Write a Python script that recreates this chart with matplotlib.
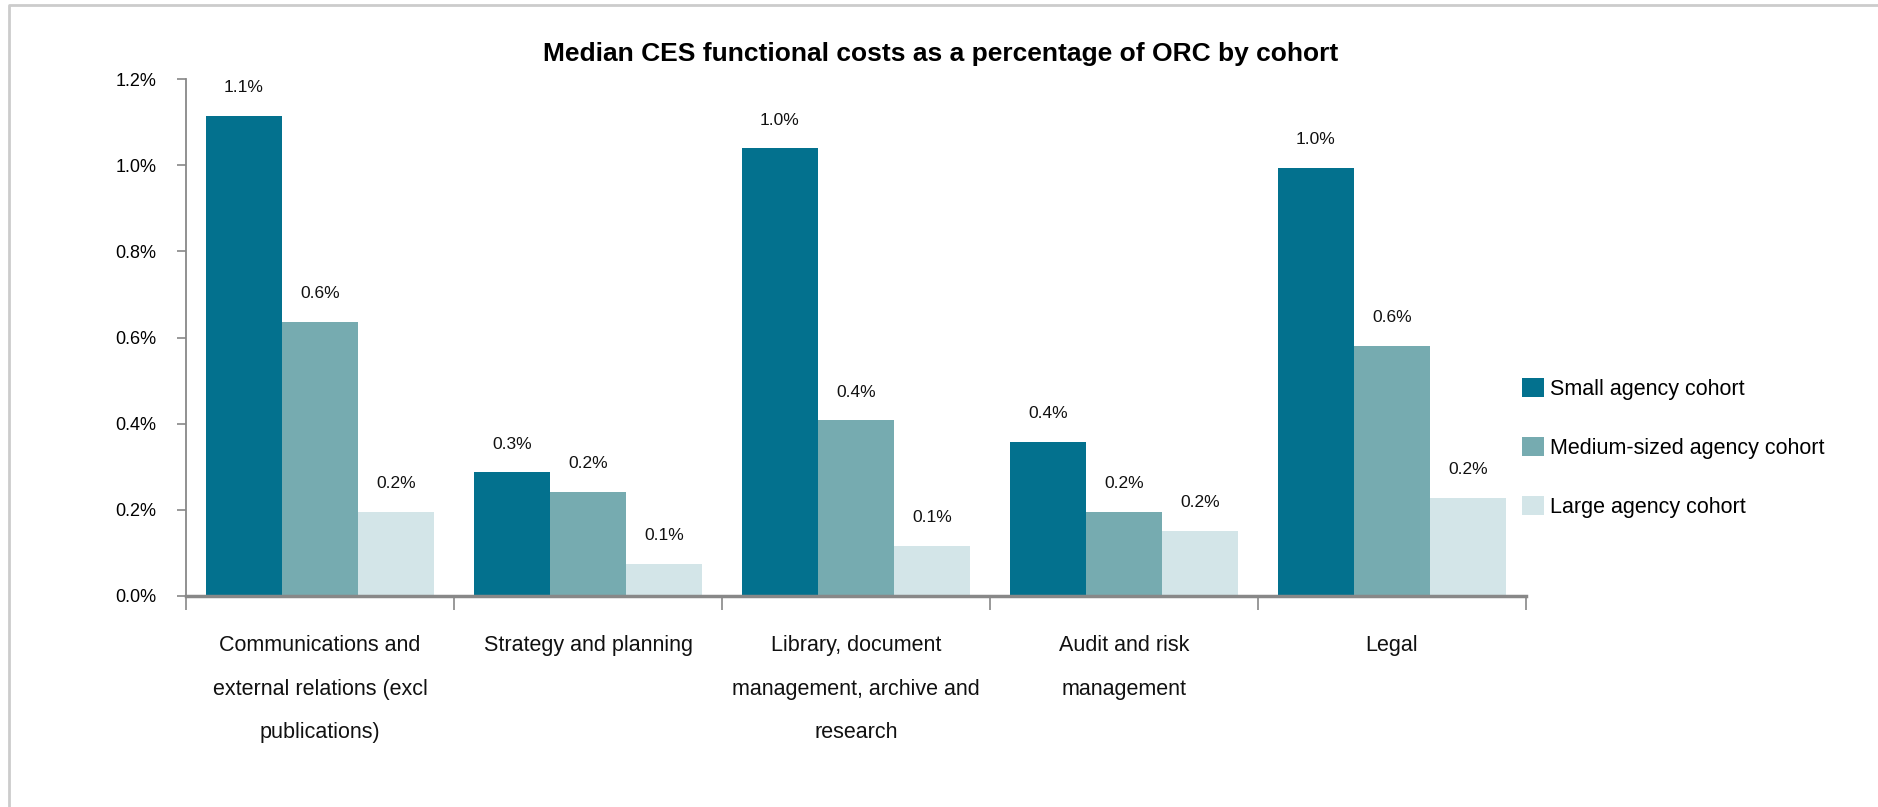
import matplotlib
matplotlib.use("Agg")
import matplotlib.pyplot as plt
from matplotlib.lines import Line2D
import numpy as np

plt.rcParams['font.family'] = ['Liberation Sans', 'DejaVu Sans']

categories = [
    "Communications and\nexternal relations (excl\npublications)",
    "Strategy and planning",
    "Library, document\nmanagement, archive and\nresearch",
    "Audit and risk\nmanagement",
    "Legal",
]
series_names = ["Small agency cohort", "Medium-sized agency cohort", "Large agency cohort"]
small = [1.115, 0.288, 1.040, 0.358, 0.994]
medium = [0.637, 0.242, 0.409, 0.196, 0.581]
large = [0.196, 0.075, 0.117, 0.152, 0.228]
yticks = [0.0, 0.2, 0.4, 0.6, 0.8, 1.0, 1.2]
colors = ["#03718E", "#76ABB0", "#D3E5E8"]

W, H = 1878, 807
fig = plt.figure(figsize=(W / 100, H / 100), dpi=100)
ax = fig.add_axes([186 / W, 1 - 596 / H, (1526 - 186) / W, (596 - 79) / H])

x = np.arange(len(categories))
bw = 0.284
for k, (vals, name, c) in enumerate(zip([small, medium, large], series_names, colors)):
    pos = x + (k - 1) * bw
    bars = ax.bar(pos, vals, width=bw, color=c, label=name, zorder=2)
    for b, v in zip(bars, vals):
        ax.annotate(f"{v:.1f}%", (b.get_x() + b.get_width() / 2, v),
                    xytext=(0, 20), textcoords="offset points",
                    ha="center", va="center", fontsize=12.5, color="#111111")

ax.set_xlim(-0.5, len(categories) - 0.5)
ax.set_ylim(0, 1.2)
ax.set_yticks(yticks)
ax.set_yticklabels([f"{t:.1f}%" for t in yticks], fontsize=13)
ax.tick_params(axis="y", length=6.5, width=1.2, color="#888888", pad=15)

ax.set_xticks(np.arange(len(categories) + 1) - 0.5)
ax.set_xticklabels([])
ax.tick_params(axis="x", length=10, width=1.2, color="#888888")

for s in ["top", "right"]:
    ax.spines[s].set_visible(False)
ax.spines["left"].set_color("#888888")
ax.spines["left"].set_linewidth(1.3)
ax.spines["bottom"].set_color("#888888")
ax.spines["bottom"].set_linewidth(2.5)

for i, lab in enumerate(categories):
    ax.text(i, -0.076, lab, transform=ax.get_xaxis_transform(), ha="center", va="top",
            fontsize=15.5, linespacing=2.4, color="#111111")

fig.text(941 / W, 1 - 54 / H, "Median CES functional costs as a percentage of ORC by cohort",
         ha="center", va="center", fontsize=19, fontweight="bold", color="#000000")

leg = fig.legend(loc="center left", bbox_to_anchor=(1522 / W, 1 - 448 / H),
                 frameon=False, fontsize=15.5, handlelength=1.0, handleheight=1.0,
                 handletextpad=0.3, labelspacing=1.72, borderpad=0, borderaxespad=0)

# light frame along the top and left edges
fig.add_artist(Line2D([9 / W, 9 / W, 1], [0, 1 - 5 / H, 1 - 5 / H],
                      transform=fig.transFigure, color="#CCCCCC", linewidth=2))

fig.savefig("out.png", dpi=100)
